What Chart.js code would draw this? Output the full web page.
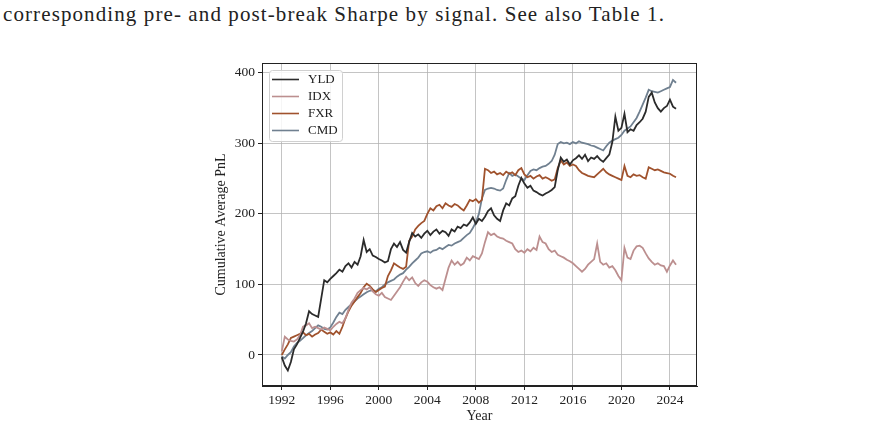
<!DOCTYPE html>
<html>
<head>
<meta charset="utf-8">
<script src="https://cdn.jsdelivr.net/npm/chart.js@4/dist/chart.umd.min.js"></script>
<style>
  html, body { margin: 0; padding: 0; background: #fff; }
  #wrap { position: relative; width: 885px; height: 428px; overflow: hidden; }
  #caption { position: absolute; left: 3px; top: 2px; font: 21px "Liberation Serif", serif; color: #222; white-space: nowrap; }
  #chart { position: absolute; left: 0; top: 0; }
</style>
</head>
<body>
<div id="wrap">
  <div id="caption">corresponding pre- and post-break Sharpe by signal. See also Table 1.</div>
  <canvas id="chart" width="885" height="428"></canvas>
</div>
<script>
// quarterly sample points, 1992.00 .. 2024.50
const years = Array.from({ length: 131 }, (_, i) => 1992 + i / 4);

const yld = [
  -3, -15, -22, -10, 8, 15, 24, 33, 45, 62, 58, 56, 54, 80, 106, 103,
  108, 112, 116, 121, 118, 126, 130, 124, 132, 128, 140, 163, 146, 150, 141, 139,
  136, 134, 131, 133, 150, 158, 153, 160, 149, 145, 160, 173, 168, 171, 166, 172,
  176, 170, 175, 178, 172, 176, 174, 169, 178, 175, 182, 180, 185, 183, 188, 195,
  186, 193, 190, 196, 204, 208, 198, 193, 190, 205, 215, 212, 222, 225, 240, 251,
  243, 237, 240, 233, 231, 228, 226, 229, 231, 234, 238, 262, 280, 274, 277, 270,
  276, 279, 283, 278, 284, 275, 280, 278, 282, 277, 274, 279, 284, 302, 338, 318,
  322, 342, 316, 320, 318, 326, 330, 335, 345, 366, 372, 358, 350, 345, 350, 353,
  362, 352, 349
];

const idx = [
  5, 26, 22, 20, 19, 22, 28, 40, 42, 45, 38, 40, 38, 36, 39, 37,
  35, 40, 44, 47, 45, 52, 64, 74, 80, 88, 92, 95, 93, 96, 90, 86,
  84, 88, 82, 80, 78, 84, 90, 96, 104, 111, 106, 110, 102, 98, 103, 106,
  104, 99, 96, 94, 96, 92, 108, 124, 134, 128, 132, 127, 130, 138, 134, 140,
  138, 136, 144, 160, 174, 170, 172, 168, 166, 165, 162, 160, 158, 150, 146, 148,
  145, 150, 147, 152, 149, 168, 160, 158, 150, 146, 148, 142, 140, 138, 135, 133,
  130, 126, 122, 118, 122, 128, 132, 136, 158, 132, 128, 130, 124, 126, 120, 112,
  106, 152, 138, 136, 148, 154, 155, 152, 144, 137, 132, 128, 130, 127, 126, 118,
  127, 134, 128
];

const fxr = [
  0, 8, 15, 24, 26, 28, 30, 32, 28, 30, 26, 29, 31, 36, 33, 30,
  32, 29, 34, 30, 40, 52, 62, 70, 76, 82, 88, 96, 101, 98, 93, 89,
  92, 95, 97, 112, 120, 130, 127, 124, 122, 125, 162, 168, 178, 183, 187, 190,
  200, 208, 205, 211, 213, 208, 215, 212, 210, 214, 212, 208, 205, 212, 220, 218,
  221, 216, 220, 264, 262, 258, 260, 256, 258, 255, 260, 257, 259, 255, 262, 265,
  256, 252, 254, 250, 253, 255, 250, 252, 250, 247, 249, 265, 276, 270, 273, 268,
  270, 268, 262, 258, 256, 254, 253, 252, 256, 260, 264, 259, 256, 254, 252, 250,
  248, 268, 254, 252, 256, 254, 255, 252, 250, 266, 264, 262, 263, 261, 259, 258,
  257, 254, 252
];

const cmd = [
  -2, -5, 0, 4, 12, 17, 20, 24, 28, 31, 34, 38, 42, 40, 37, 36,
  39, 46, 54, 60, 58, 64, 68, 72, 76, 80, 83, 86, 89, 91, 92, 90,
  94, 96, 100, 103, 105, 107, 111, 114, 116, 121, 125, 130, 134, 138, 144, 146,
  147, 145, 148, 149, 152, 150, 153, 156, 155, 158, 160, 162, 166, 170, 173, 180,
  188, 200, 222, 234, 236, 237, 236, 234, 233, 236, 248, 258, 254, 256, 253, 250,
  248, 255, 261, 263, 262, 265, 267, 268, 271, 275, 284, 299, 302, 300, 301, 299,
  302, 300, 303, 301, 300, 299, 297, 296, 294, 292, 290, 296, 301, 304, 306, 308,
  312, 318, 321, 324, 330, 336, 345, 355, 365, 376, 374, 373, 372, 374, 376, 378,
  380, 390, 386
];

const seriesNames = ['YLD', 'IDX', 'FXR', 'CMD'];
const seriesColors = ['#2b2b2b', '#bc8f8f', '#a0522d', '#708090'];
const xTicks = [1992, 1996, 2000, 2004, 2008, 2012, 2016, 2020, 2024];
const yTicks = [0, 100, 200, 300, 400];

const serif = '"Liberation Serif", "Times New Roman", serif';
const ink = '#222';

// the LaTeX caption font runs wider than Times, stretch the spacing to the same line length
const caption = document.getElementById('caption');
const capChars = caption.textContent.length;
caption.style.letterSpacing = ((662 - caption.offsetWidth) / capChars) + 'px';

const toPoints = vals => vals.map((v, i) => ({ x: years[i], y: v }));

// matplotlib style: box round the plot and a legend inside the top left corner
const frameAndLegend = {
    id: 'frameAndLegend',
    afterDraw(chart) {
        const { ctx, chartArea } = chart;
        ctx.save();
        ctx.strokeStyle = ink;
        ctx.lineWidth = 1;
        ctx.strokeRect(chartArea.left + 0.5, chartArea.top + 0.5,
            chartArea.right - chartArea.left - 1, chartArea.bottom - chartArea.top - 1);

        const bx = chartArea.left + 7, by = chartArea.top + 7, bw = 73, bh = 71;
        ctx.beginPath();
        ctx.roundRect(bx + 0.5, by + 0.5, bw, bh, 3);
        ctx.fillStyle = 'rgba(255,255,255,0.85)';
        ctx.fill();
        ctx.strokeStyle = '#d0d0d0';
        ctx.stroke();

        ctx.font = '13px ' + serif;
        ctx.textBaseline = 'middle';
        chart.data.datasets.forEach((ds, i) => {
            const y = by + 9.5 + i * 17;
            ctx.beginPath();
            ctx.moveTo(bx + 3, y);
            ctx.lineTo(bx + 30, y);
            ctx.strokeStyle = ds.borderColor;
            ctx.lineWidth = 1.6;
            ctx.stroke();
            ctx.fillStyle = ink;
            ctx.fillText(ds.label, bx + 39, y + 0.5);
        });
        ctx.restore();
    }
};

new Chart(document.getElementById('chart'), {
    type: 'line',
    data: {
        datasets: [yld, idx, fxr, cmd].map((vals, i) => ({
            label: seriesNames[i],
            data: toPoints(vals),
            borderColor: seriesColors[i],
            backgroundColor: seriesColors[i],
            borderWidth: 1.8,
            pointRadius: 0,
            tension: 0,
            fill: false
        }))
    },
    options: {
        responsive: false,
        animation: false,
        layout: { padding: { left: 202, top: 63, right: 188, bottom: 0 } },
        plugins: {
            legend: { display: false },
            tooltip: { enabled: false }
        },
        scales: {
            x: {
                type: 'linear',
                min: 1990.37,
                max: 2026.23,
                afterBuildTicks: s => { s.ticks = xTicks.map(v => ({ value: v })); },
                afterFit: s => { s.height = 42; },
                ticks: { callback: v => String(v), color: ink, padding: 2, maxRotation: 0, font: { family: serif, size: 13.5 } },
                grid: { color: 'rgba(176,176,176,0.75)', lineWidth: 1, tickColor: ink, tickLength: 4 },
                border: { color: ink, width: 1 },
                title: { display: true, text: 'Year', color: ink, padding: { top: 3, bottom: 3 }, font: { family: serif, size: 14 } }
            },
            y: {
                min: -44,
                max: 414,
                afterBuildTicks: s => { s.ticks = yTicks.map(v => ({ value: v })); },
                afterFit: s => { s.width = 60; },
                ticks: { callback: v => String(v), color: ink, padding: 3, font: { family: serif, size: 13.5 } },
                grid: { color: 'rgba(176,176,176,0.75)', lineWidth: 1, tickColor: ink, tickLength: 4 },
                border: { color: ink, width: 1 },
                title: { display: true, text: 'Cumulative Average PnL', color: ink, padding: { top: 11, bottom: 11 }, font: { family: serif, size: 14 } }
            }
        }
    },
    plugins: [frameAndLegend]
});
</script>
</body>
</html>
